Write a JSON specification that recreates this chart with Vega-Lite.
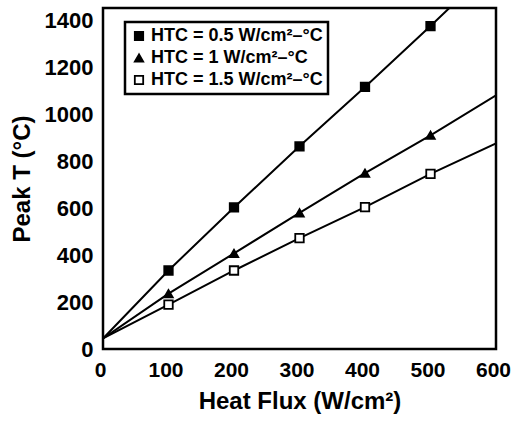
{
  "$schema": "https://vega.github.io/schema/vega-lite/v6.json",
  "width": 393,
  "height": 341,
  "autosize": "none",
  "padding": {"left": 103, "top": 8, "right": 16, "bottom": 74},
  "background": "white",
  "config": {
    "font": "Liberation Sans",
    "view": {"stroke": "black", "strokeWidth": 2.5},
    "legend": {"strokeWidth": 2.5}
  },
  "data": {
    "values": [
      {"series": "HTC = 0.5 W/cm²–°C", "x": 0, "y": 45},
      {"series": "HTC = 0.5 W/cm²–°C", "x": 100, "y": 335},
      {"series": "HTC = 0.5 W/cm²–°C", "x": 200, "y": 604},
      {"series": "HTC = 0.5 W/cm²–°C", "x": 300, "y": 865},
      {"series": "HTC = 0.5 W/cm²–°C", "x": 400, "y": 1118},
      {"series": "HTC = 0.5 W/cm²–°C", "x": 500, "y": 1378},
      {"series": "HTC = 0.5 W/cm²–°C", "x": 600, "y": 1645},
      {"series": "HTC = 1 W/cm²–°C", "x": 0, "y": 45},
      {"series": "HTC = 1 W/cm²–°C", "x": 100, "y": 236},
      {"series": "HTC = 1 W/cm²–°C", "x": 200, "y": 408},
      {"series": "HTC = 1 W/cm²–°C", "x": 300, "y": 581},
      {"series": "HTC = 1 W/cm²–°C", "x": 400, "y": 750},
      {"series": "HTC = 1 W/cm²–°C", "x": 500, "y": 912},
      {"series": "HTC = 1 W/cm²–°C", "x": 600, "y": 1082},
      {"series": "HTC = 1.5 W/cm²–°C", "x": 0, "y": 45},
      {"series": "HTC = 1.5 W/cm²–°C", "x": 100, "y": 189},
      {"series": "HTC = 1.5 W/cm²–°C", "x": 200, "y": 335},
      {"series": "HTC = 1.5 W/cm²–°C", "x": 300, "y": 473},
      {"series": "HTC = 1.5 W/cm²–°C", "x": 400, "y": 605},
      {"series": "HTC = 1.5 W/cm²–°C", "x": 500, "y": 747},
      {"series": "HTC = 1.5 W/cm²–°C", "x": 600, "y": 877}
    ]
  },
  "encoding": {
    "x": {
      "field": "x", "type": "quantitative",
      "scale": {"domain": [0, 600], "nice": false},
      "axis": {"values": [0, 100, 200, 300, 400, 500, 600], "format": "d", "grid": false, "domain": false, "ticks": false, "labelFont": "Liberation Sans", "labelFontWeight": "bold", "labelColor": "black", "labelFontSize": 21, "labelOffset": -3, "labelPadding": 10, "title": "Heat Flux (W/cm²)", "titleFont": "Liberation Sans", "titleFontWeight": "bold", "titleFontSize": 24, "titleColor": "black", "titlePadding": 9, "labelFlush": false}
    },
    "y": {
      "field": "y", "type": "quantitative",
      "scale": {"domain": [0, 1455], "nice": false},
      "axis": {"values": [0, 200, 400, 600, 800, 1000, 1200, 1400], "format": "d", "grid": false, "domain": false, "ticks": false, "labelFont": "Liberation Sans", "labelFontWeight": "bold", "labelColor": "black", "labelFontSize": 22, "labelPadding": 10, "title": "Peak T (°C)", "titleFont": "Liberation Sans", "titleFontWeight": "bold", "titleFontSize": 24, "titleColor": "black", "titlePadding": 10, "labelFlush": false}
    }
  },
  "layer": [
    {
      "data": {"values": [{"x": 100}, {"x": 200}, {"x": 300}, {"x": 400}, {"x": 500}]},
      "mark": {"type": "rule", "color": "black", "strokeWidth": 2},
      "encoding": {"y": {"datum": 0}, "y2": {"datum": 36}}
    },
    {
      "data": {"values": [{"y": 200}, {"y": 400}, {"y": 600}, {"y": 800}, {"y": 1000}, {"y": 1200}, {"y": 1400}]},
      "mark": {"type": "rule", "color": "black", "strokeWidth": 2},
      "encoding": {"x": {"datum": 0}, "x2": {"datum": 12}}
    },
    {
      "mark": {"type": "line", "color": "black", "strokeWidth": 2, "clip": true},
      "encoding": {"detail": {"field": "series"}}
    },
    {
      "transform": [{"filter": "datum.x >= 100 && datum.x <= 500"}],
      "mark": {"type": "point", "strokeWidth": 1.8, "opacity": 1, "size": 72},
      "encoding": {
        "shape": {
          "field": "series", "type": "nominal",
          "scale": {"domain": ["HTC = 0.5 W/cm²–°C", "HTC = 1 W/cm²–°C", "HTC = 1.5 W/cm²–°C"], "range": ["square", "triangle-up", "square"]},
          "legend": {
            "title": null,
            "orient": "none",
            "legendX": 22,
            "legendY": 14,
            "strokeColor": "black",
            "padding": 5,
            "rowPadding": 4,
            "labelFont": "Liberation Sans",
            "labelFontWeight": "bold",
            "labelFontSize": 18,
            "labelColor": "black",
            "labelLimit": 300,
            "symbolSize": 70,
            "symbolStrokeWidth": 1.8,
            "labelOffset": 3
          }
        },
        "fill": {
          "field": "series", "type": "nominal",
          "scale": {"domain": ["HTC = 0.5 W/cm²–°C", "HTC = 1 W/cm²–°C", "HTC = 1.5 W/cm²–°C"], "range": ["black", "black", "white"]},
          "legend": {
            "title": null,
            "orient": "none",
            "legendX": 22,
            "legendY": 14,
            "strokeColor": "black",
            "padding": 5,
            "rowPadding": 4,
            "labelFont": "Liberation Sans",
            "labelFontWeight": "bold",
            "labelFontSize": 18,
            "labelColor": "black",
            "labelLimit": 300,
            "symbolSize": 70,
            "symbolStrokeWidth": 1.8,
            "labelOffset": 3
          }
        },
        "stroke": {
          "field": "series", "type": "nominal",
          "scale": {"domain": ["HTC = 0.5 W/cm²–°C", "HTC = 1 W/cm²–°C", "HTC = 1.5 W/cm²–°C"], "range": ["black", "black", "black"]},
          "legend": {
            "title": null,
            "orient": "none",
            "legendX": 22,
            "legendY": 14,
            "strokeColor": "black",
            "padding": 5,
            "rowPadding": 4,
            "labelFont": "Liberation Sans",
            "labelFontWeight": "bold",
            "labelFontSize": 18,
            "labelColor": "black",
            "labelLimit": 300,
            "symbolSize": 70,
            "symbolStrokeWidth": 1.8,
            "labelOffset": 3
          }
        }
      }
    }
  ]
}
